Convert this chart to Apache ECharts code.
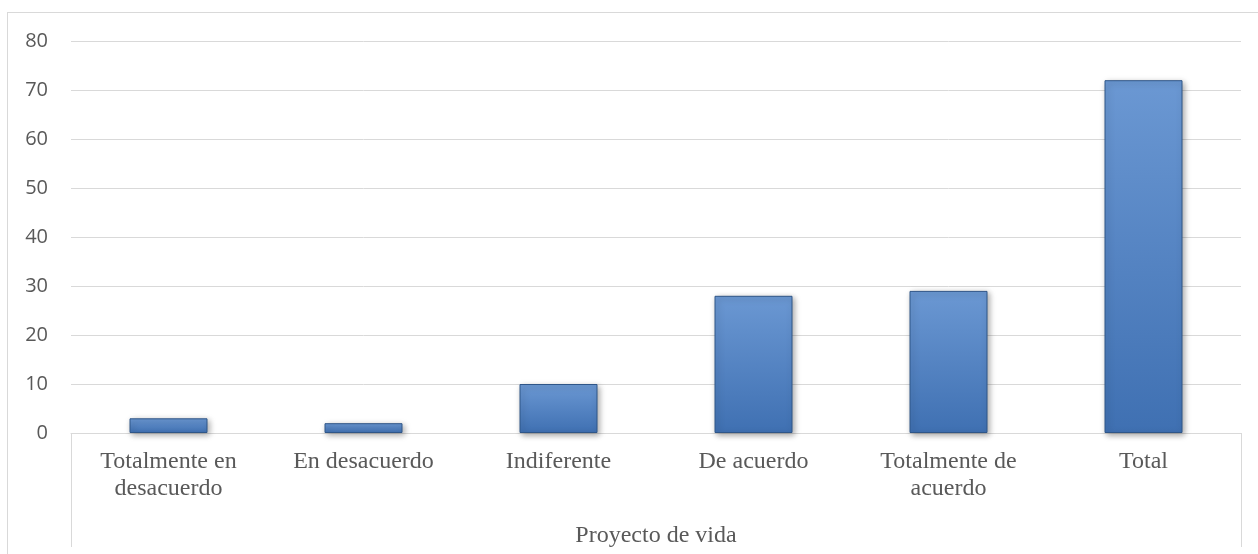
<!DOCTYPE html>
<html>
<head>
<meta charset="utf-8">
<script src="https://cdn.jsdelivr.net/npm/echarts@6/dist/echarts.min.js"></script>
<style>
  html, body { margin: 0; padding: 0; background: #fff; }
  #frame {
    position: absolute; left: 7px; top: 12px; right: 0; bottom: 0;
    border-left: 1px solid #d9d9d9; border-top: 1px solid #d9d9d9;
  }
  #bar-chart { position: absolute; left: 0; top: 0; width: 1258px; height: 554px; }
</style>
</head>
<body>
<div id="frame"></div>
<div id="bar-chart"></div>
<script>
// categorias del eje x
var categories = [
  'Totalmente en\ndesacuerdo',
  'En desacuerdo',
  'Indiferente',
  'De acuerdo',
  'Totalmente de\nacuerdo',
  'Total'
]
var groupLabel = ['Proyecto de vida']
// valores
var values = [3, 2, 10, 28, 29, 72]
// eje y
var yMin = 0
var yMax = 80
var yStep = 10

var chart = echarts.init(document.getElementById('bar-chart'))
var option = {
  animation: false,
  grid: {
    top: 41,
    left: 71,
    right: 17,
    bottom: 121,
    containLabel: false
  },
  xAxis: [
    {
      type: 'category',
      data: categories,
      position: 'bottom',
      axisLine: {
        lineStyle: { color: '#d9d9d9', width: 1 }
      },
      axisTick: { show: false },
      axisLabel: {
        interval: 0,
        margin: 15,
        color: '#595959',
        fontFamily: 'Liberation Serif',
        fontSize: 24,
        lineHeight: 27
      }
    },
    {
      type: 'category',
      data: groupLabel,
      position: 'bottom',
      axisLine: { show: false },
      axisTick: {
        show: true,
        inside: false,
        length: 114,
        lineStyle: { color: '#d9d9d9', width: 1 }
      },
      axisLabel: {
        margin: 91,
        color: '#595959',
        fontFamily: 'Liberation Serif',
        fontSize: 24
      }
    }
  ],
  yAxis: {
    type: 'value',
    min: yMin,
    max: yMax,
    interval: yStep,
    axisLine: { show: false },
    axisTick: { show: false },
    splitLine: {
      lineStyle: { color: '#d9d9d9', width: 1 }
    },
    axisLabel: {
      margin: 23,
      color: '#595959',
      fontFamily: 'Open Sans',
      fontSize: 20
    }
  },
  series: [
    {
      type: 'bar',
      xAxisIndex: 0,
      data: values,
      barWidth: '40%',
      itemStyle: {
        color: {
          type: 'linear',
          x: 0, y: 0, x2: 0, y2: 1,
          colorStops: [
            { offset: 0, color: '#6b98d3' },
            { offset: 1, color: '#3f70b2' }
          ]
        },
        borderColor: '#2f5688',
        borderWidth: 1,
        shadowBlur: 6,
        shadowColor: 'rgba(0,0,0,0.35)',
        shadowOffsetX: 2,
        shadowOffsetY: 2
      }
    }
  ]
}
chart.setOption(option)
</script>
</body>
</html>
